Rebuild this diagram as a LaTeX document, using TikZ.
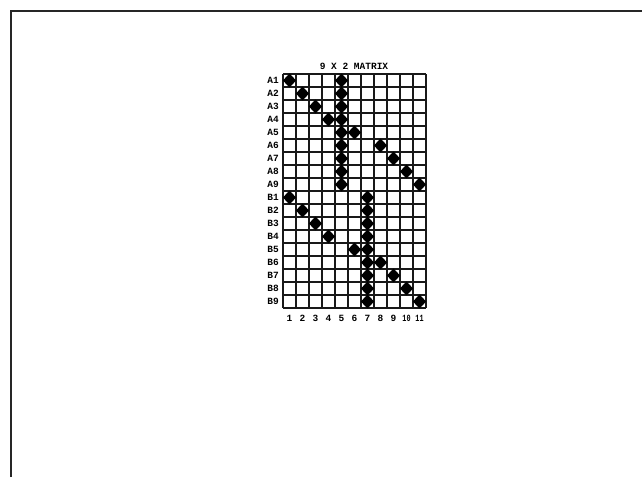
\documentclass[tikz,border=0pt]{standalone}
\usepackage{fontspec}
\usepackage{graphicx}
\setmonofont{Liberation Mono}
\usetikzlibrary{shapes.geometric}
\begin{document}
\begin{tikzpicture}[x=1pt,y=-1pt,
  cell/.style={line width=1.8pt, black!90},
  dmd/.style={diamond, fill=black, inner sep=0pt, minimum width=13.5pt, minimum height=14pt},
  lbl/.style={font=\ttfamily\bfseries\fontsize{9.5}{9.5}\selectfont, inner sep=0pt},
  frame/.style={line width=2pt, black!85}]
\useasboundingbox (0,0) rectangle (642,477);
\draw[frame] (11,477) -- (11,11) -- (642,11);
% grid
\foreach \i in {0,...,11}
  \draw[cell] ({283+\i*13},74) -- ({283+\i*13},{74+18*13});
\foreach \j in {0,...,18}
  \draw[cell] (283,{74+\j*13}) -- ({283+11*13},{74+\j*13});
% title
\node[lbl] (title) at (354,66) {9 X 2 MATRIX};
% row labels
\foreach \n [count=\r] in {A1,A2,A3,A4,A5,A6,A7,A8,A9,B1,B2,B3,B4,B5,B6,B7,B8,B9}
  \node[lbl, anchor=east] (row\r) at (279,{74+(\r-0.5)*13}) {\n};
% column labels
\foreach \c in {1,...,9}
  \node[lbl] (col\c) at ({283+(\c-0.5)*13},318) {\c};
\node[lbl] (col10) at ({283+9.5*13},318) {\scalebox{0.72}[1]{10}};
\node[lbl] (col11) at ({283+10.5*13},318) {\scalebox{0.72}[1]{11}};
% diamonds
\foreach \c/\r in {1/1,2/2,3/3,4/4,6/5,8/6,9/7,10/8,11/9,
                   5/1,5/2,5/3,5/4,5/5,5/6,5/7,5/8,5/9,
                   1/10,2/11,3/12,4/13,6/14,8/15,9/16,10/17,11/18,
                   7/10,7/11,7/12,7/13,7/14,7/15,7/16,7/17,7/18}
  \node[dmd] (d-\c-\r) at ({283+(\c-0.5)*13},{74+(\r-0.5)*13}) {};
\end{tikzpicture}
\end{document}
